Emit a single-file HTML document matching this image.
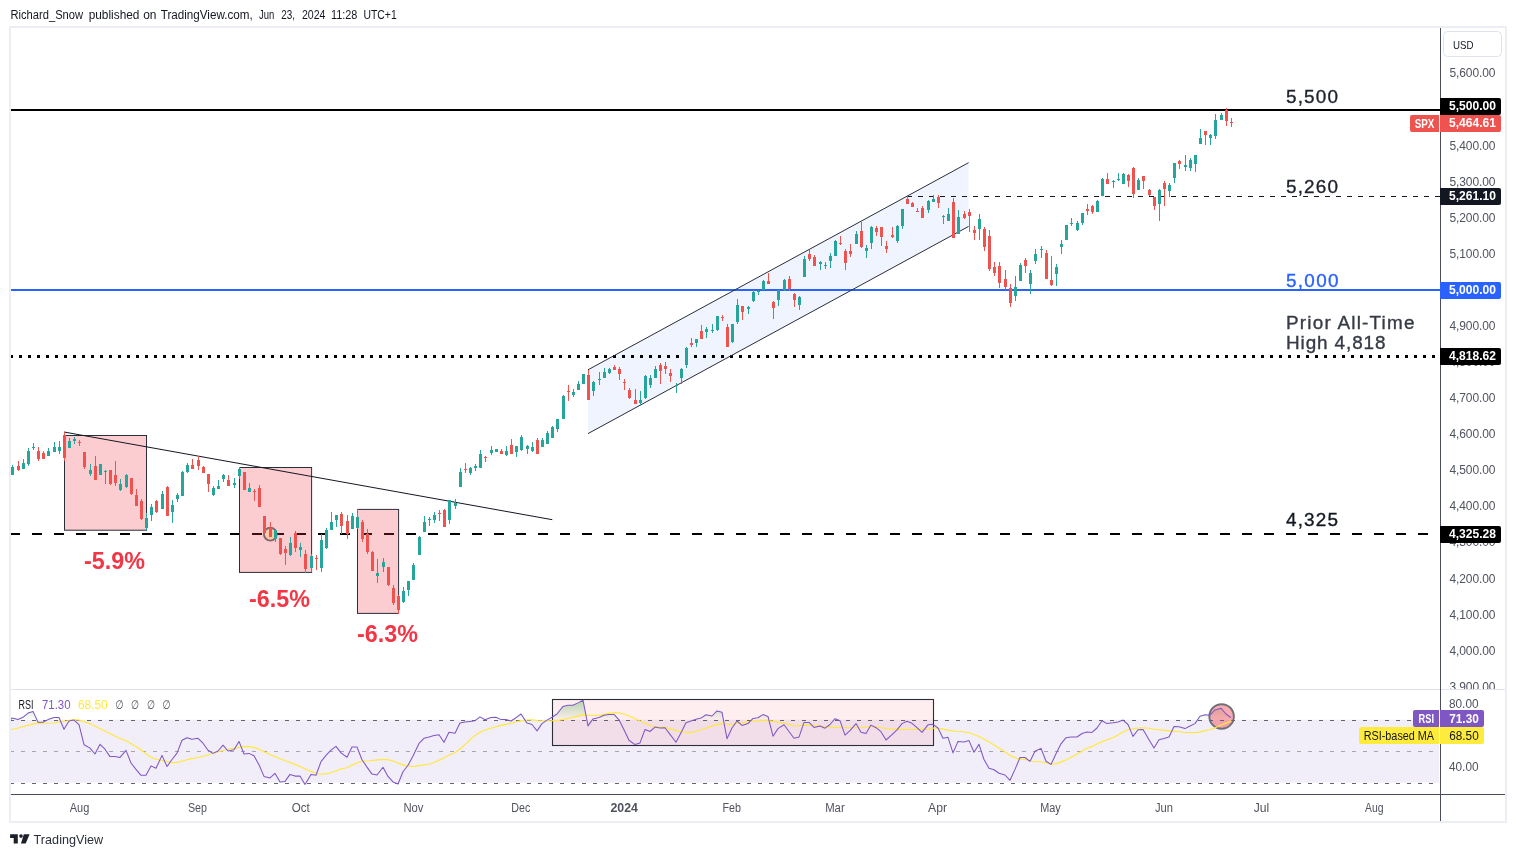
<!DOCTYPE html>
<html lang="en"><head><meta charset="utf-8"><title>SPX chart</title>
<style>html,body{margin:0;padding:0;background:#fff;overflow:hidden}body{width:1516px;height:857px}</style></head>
<body>
<svg width="1516" height="857" viewBox="0 0 1516 857" font-family='"Liberation Sans", "DejaVu Sans", sans-serif' style="display:block">
<rect x="0" y="0" width="1516" height="857" fill="#ffffff" />
<text y="19" font-size="12" fill="#131722"><tspan x="10.5" textLength="72.6" lengthAdjust="spacingAndGlyphs">Richard_Snow</tspan> <tspan x="88.7" textLength="50.7" lengthAdjust="spacingAndGlyphs">published</tspan> <tspan x="143.2" textLength="13.3" lengthAdjust="spacingAndGlyphs">on</tspan> <tspan x="160.7" textLength="92" lengthAdjust="spacingAndGlyphs">TradingView.com,</tspan> <tspan x="259" textLength="15.3" lengthAdjust="spacingAndGlyphs">Jun</tspan> <tspan x="281.2" textLength="13.8" lengthAdjust="spacingAndGlyphs">23,</tspan> <tspan x="302" textLength="23.5" lengthAdjust="spacingAndGlyphs">2024</tspan> <tspan x="331" textLength="26.4" lengthAdjust="spacingAndGlyphs">11:28</tspan> <tspan x="363.5" textLength="33.2" lengthAdjust="spacingAndGlyphs">UTC+1</tspan></text>
<rect x="10" y="27" width="1496" height="795" fill="#ffffff" stroke="#eceef4" stroke-width="2"/>
<g shape-rendering="crispEdges">
<rect x="11" y="689" width="1494" height="1" fill="#e0e3eb" />
</g>
<polygon points="588,369.8 968.6,162.7 968.6,226.4 588,433.6" fill="#2962ff" fill-opacity="0.07"/>
<g shape-rendering="crispEdges">
<rect x="11" y="109" width="1429" height="2" fill="#000000" />
<rect x="11" y="289" width="1429" height="2" fill="#2962ff" />
</g>
<line x1="907" y1="196.5" x2="1440" y2="196.5" stroke="#131722" stroke-width="1" stroke-dasharray="5,6" shape-rendering="crispEdges"/>
<line x1="10" y1="356.5" x2="1440" y2="356.5" stroke="#000" stroke-width="3" stroke-dasharray="3,6" shape-rendering="crispEdges"/>
<line x1="10" y1="534" x2="1440" y2="534" stroke="#000" stroke-width="2" stroke-dasharray="10,12" shape-rendering="crispEdges"/>
<rect x="64.5" y="435.5" width="82.0" height="94.70000000000005" fill="#f23645" fill-opacity="0.25" stroke="#2a2e39" stroke-width="1"/>
<rect x="239.5" y="467.5" width="72.10000000000002" height="104.89999999999998" fill="#f23645" fill-opacity="0.25" stroke="#2a2e39" stroke-width="1"/>
<rect x="357.5" y="509.4" width="41.10000000000002" height="104.0" fill="#f23645" fill-opacity="0.25" stroke="#2a2e39" stroke-width="1"/>
<line x1="64" y1="432" x2="552.3" y2="519.7" stroke="#131722" stroke-width="1"/>
<line x1="588" y1="369.8" x2="968.6" y2="162.7" stroke="#2a2e39" stroke-width="1"/>
<line x1="588" y1="433.6" x2="968.6" y2="226.4" stroke="#2a2e39" stroke-width="1"/>
<circle cx="270.3" cy="534.2" r="6.4" fill="#ffc878" fill-opacity="0.5" stroke="#846570" stroke-width="1.9"/>
<g shape-rendering="crispEdges">
<rect x="12" y="465" width="1" height="10" fill="#26a69a"/><rect x="11" y="467" width="3" height="8" fill="#26a69a"/>
<rect x="18" y="461" width="1" height="10" fill="#ef5350"/><rect x="17" y="466" width="3" height="4" fill="#ef5350"/>
<rect x="23" y="459" width="1" height="10" fill="#26a69a"/><rect x="22" y="463" width="3" height="6" fill="#26a69a"/>
<rect x="28" y="448" width="1" height="18" fill="#26a69a"/><rect x="27" y="451" width="3" height="13" fill="#26a69a"/>
<rect x="33" y="443" width="1" height="7" fill="#26a69a"/><rect x="32" y="447" width="3" height="1" fill="#26a69a"/>
<rect x="38" y="447" width="1" height="14" fill="#ef5350"/><rect x="37" y="451" width="3" height="8" fill="#ef5350"/>
<rect x="43" y="451" width="1" height="8" fill="#ef5350"/><rect x="42" y="453" width="3" height="6" fill="#ef5350"/>
<rect x="48" y="448" width="1" height="8" fill="#26a69a"/><rect x="47" y="451" width="3" height="5" fill="#26a69a"/>
<rect x="54" y="442" width="1" height="10" fill="#26a69a"/><rect x="53" y="447" width="3" height="5" fill="#26a69a"/>
<rect x="59" y="441" width="1" height="13" fill="#26a69a"/><rect x="58" y="447" width="3" height="4" fill="#26a69a"/>
<rect x="64" y="432" width="1" height="29" fill="#ef5350"/><rect x="63" y="435" width="3" height="23" fill="#ef5350"/>
<rect x="69" y="438" width="1" height="10" fill="#26a69a"/><rect x="68" y="441" width="3" height="7" fill="#26a69a"/>
<rect x="74" y="437" width="1" height="7" fill="#26a69a"/><rect x="73" y="439" width="3" height="2" fill="#26a69a"/>
<rect x="79" y="440" width="1" height="6" fill="#ef5350"/><rect x="78" y="442" width="3" height="1" fill="#ef5350"/>
<rect x="84" y="452" width="1" height="17" fill="#ef5350"/><rect x="83" y="452" width="3" height="15" fill="#ef5350"/>
<rect x="90" y="464" width="1" height="12" fill="#26a69a"/><rect x="89" y="470" width="3" height="4" fill="#26a69a"/>
<rect x="95" y="456" width="1" height="24" fill="#ef5350"/><rect x="94" y="466" width="3" height="14" fill="#ef5350"/>
<rect x="100" y="464" width="1" height="11" fill="#26a69a"/><rect x="99" y="464" width="3" height="11" fill="#26a69a"/>
<rect x="105" y="470" width="1" height="14" fill="#26a69a"/><rect x="104" y="471" width="3" height="1" fill="#26a69a"/>
<rect x="110" y="470" width="1" height="15" fill="#ef5350"/><rect x="109" y="470" width="3" height="14" fill="#ef5350"/>
<rect x="115" y="461" width="1" height="25" fill="#ef5350"/><rect x="114" y="475" width="3" height="8" fill="#ef5350"/>
<rect x="120" y="479" width="1" height="12" fill="#26a69a"/><rect x="119" y="484" width="3" height="6" fill="#26a69a"/>
<rect x="126" y="474" width="1" height="14" fill="#26a69a"/><rect x="125" y="475" width="3" height="12" fill="#26a69a"/>
<rect x="131" y="478" width="1" height="17" fill="#ef5350"/><rect x="130" y="478" width="3" height="16" fill="#ef5350"/>
<rect x="136" y="489" width="1" height="17" fill="#ef5350"/><rect x="135" y="495" width="3" height="11" fill="#ef5350"/>
<rect x="141" y="499" width="1" height="21" fill="#ef5350"/><rect x="140" y="501" width="3" height="18" fill="#ef5350"/>
<rect x="146" y="513" width="1" height="17" fill="#26a69a"/><rect x="145" y="518" width="3" height="10" fill="#26a69a"/>
<rect x="151" y="504" width="1" height="17" fill="#26a69a"/><rect x="150" y="507" width="3" height="8" fill="#26a69a"/>
<rect x="156" y="500" width="1" height="13" fill="#ef5350"/><rect x="155" y="501" width="3" height="11" fill="#ef5350"/>
<rect x="162" y="491" width="1" height="18" fill="#26a69a"/><rect x="161" y="494" width="3" height="15" fill="#26a69a"/>
<rect x="167" y="486" width="1" height="30" fill="#ef5350"/><rect x="166" y="487" width="3" height="29" fill="#ef5350"/>
<rect x="172" y="500" width="1" height="23" fill="#26a69a"/><rect x="171" y="505" width="3" height="7" fill="#26a69a"/>
<rect x="177" y="493" width="1" height="9" fill="#26a69a"/><rect x="176" y="495" width="3" height="4" fill="#26a69a"/>
<rect x="182" y="471" width="1" height="25" fill="#26a69a"/><rect x="181" y="472" width="3" height="24" fill="#26a69a"/>
<rect x="187" y="463" width="1" height="10" fill="#26a69a"/><rect x="186" y="465" width="3" height="7" fill="#26a69a"/>
<rect x="192" y="459" width="1" height="10" fill="#ef5350"/><rect x="191" y="465" width="3" height="4" fill="#ef5350"/>
<rect x="198" y="456" width="1" height="14" fill="#ef5350"/><rect x="197" y="460" width="3" height="6" fill="#ef5350"/>
<rect x="203" y="466" width="1" height="7" fill="#ef5350"/><rect x="202" y="467" width="3" height="6" fill="#ef5350"/>
<rect x="208" y="474" width="1" height="18" fill="#ef5350"/><rect x="207" y="474" width="3" height="10" fill="#ef5350"/>
<rect x="213" y="486" width="1" height="10" fill="#26a69a"/><rect x="212" y="488" width="3" height="7" fill="#26a69a"/>
<rect x="218" y="480" width="1" height="9" fill="#26a69a"/><rect x="217" y="486" width="3" height="3" fill="#26a69a"/>
<rect x="223" y="474" width="1" height="8" fill="#26a69a"/><rect x="222" y="475" width="3" height="4" fill="#26a69a"/>
<rect x="228" y="475" width="1" height="11" fill="#ef5350"/><rect x="227" y="480" width="3" height="6" fill="#ef5350"/>
<rect x="234" y="478" width="1" height="10" fill="#26a69a"/><rect x="233" y="483" width="3" height="2" fill="#26a69a"/>
<rect x="239" y="467" width="1" height="12" fill="#26a69a"/><rect x="238" y="469" width="3" height="7" fill="#26a69a"/>
<rect x="244" y="472" width="1" height="18" fill="#ef5350"/><rect x="243" y="472" width="3" height="18" fill="#ef5350"/>
<rect x="249" y="483" width="1" height="9" fill="#26a69a"/><rect x="248" y="488" width="3" height="4" fill="#26a69a"/>
<rect x="254" y="489" width="1" height="12" fill="#ef5350"/><rect x="253" y="491" width="3" height="1" fill="#ef5350"/>
<rect x="259" y="485" width="1" height="22" fill="#ef5350"/><rect x="258" y="488" width="3" height="19" fill="#ef5350"/>
<rect x="264" y="516" width="1" height="17" fill="#ef5350"/><rect x="263" y="516" width="3" height="17" fill="#ef5350"/>
<rect x="270" y="522" width="1" height="15" fill="#ef5350"/><rect x="269" y="528" width="3" height="9" fill="#ef5350"/>
<rect x="275" y="529" width="1" height="13" fill="#26a69a"/><rect x="274" y="530" width="3" height="9" fill="#26a69a"/>
<rect x="280" y="538" width="1" height="17" fill="#ef5350"/><rect x="279" y="538" width="3" height="16" fill="#ef5350"/>
<rect x="285" y="546" width="1" height="19" fill="#ef5350"/><rect x="284" y="549" width="3" height="4" fill="#ef5350"/>
<rect x="290" y="537" width="1" height="19" fill="#26a69a"/><rect x="289" y="543" width="3" height="12" fill="#26a69a"/>
<rect x="295" y="531" width="1" height="21" fill="#ef5350"/><rect x="294" y="533" width="3" height="15" fill="#ef5350"/>
<rect x="300" y="543" width="1" height="14" fill="#26a69a"/><rect x="299" y="547" width="3" height="3" fill="#26a69a"/>
<rect x="305" y="550" width="1" height="23" fill="#ef5350"/><rect x="304" y="554" width="3" height="15" fill="#ef5350"/>
<rect x="311" y="554" width="1" height="18" fill="#26a69a"/><rect x="310" y="556" width="3" height="12" fill="#26a69a"/>
<rect x="316" y="555" width="1" height="15" fill="#ef5350"/><rect x="315" y="558" width="3" height="1" fill="#ef5350"/>
<rect x="321" y="534" width="1" height="38" fill="#26a69a"/><rect x="320" y="540" width="3" height="28" fill="#26a69a"/>
<rect x="326" y="528" width="1" height="21" fill="#26a69a"/><rect x="325" y="530" width="3" height="18" fill="#26a69a"/>
<rect x="331" y="512" width="1" height="18" fill="#26a69a"/><rect x="330" y="522" width="3" height="8" fill="#26a69a"/>
<rect x="336" y="515" width="1" height="12" fill="#26a69a"/><rect x="335" y="515" width="3" height="5" fill="#26a69a"/>
<rect x="341" y="512" width="1" height="22" fill="#ef5350"/><rect x="340" y="514" width="3" height="12" fill="#ef5350"/>
<rect x="347" y="515" width="1" height="24" fill="#ef5350"/><rect x="346" y="521" width="3" height="13" fill="#ef5350"/>
<rect x="352" y="513" width="1" height="16" fill="#26a69a"/><rect x="351" y="516" width="3" height="13" fill="#26a69a"/>
<rect x="357" y="509" width="1" height="20" fill="#26a69a"/><rect x="356" y="517" width="3" height="11" fill="#26a69a"/>
<rect x="362" y="520" width="1" height="22" fill="#ef5350"/><rect x="361" y="522" width="3" height="17" fill="#ef5350"/>
<rect x="367" y="529" width="1" height="25" fill="#ef5350"/><rect x="366" y="534" width="3" height="18" fill="#ef5350"/>
<rect x="372" y="551" width="1" height="20" fill="#ef5350"/><rect x="371" y="552" width="3" height="19" fill="#ef5350"/>
<rect x="377" y="559" width="1" height="24" fill="#26a69a"/><rect x="376" y="573" width="3" height="3" fill="#26a69a"/>
<rect x="383" y="558" width="1" height="14" fill="#26a69a"/><rect x="382" y="562" width="3" height="5" fill="#26a69a"/>
<rect x="388" y="567" width="1" height="19" fill="#ef5350"/><rect x="387" y="567" width="3" height="18" fill="#ef5350"/>
<rect x="393" y="585" width="1" height="20" fill="#ef5350"/><rect x="392" y="588" width="3" height="15" fill="#ef5350"/>
<rect x="398" y="595" width="1" height="19" fill="#ef5350"/><rect x="397" y="596" width="3" height="14" fill="#ef5350"/>
<rect x="403" y="587" width="1" height="16" fill="#26a69a"/><rect x="402" y="591" width="3" height="11" fill="#26a69a"/>
<rect x="408" y="581" width="1" height="15" fill="#26a69a"/><rect x="407" y="581" width="3" height="9" fill="#26a69a"/>
<rect x="413" y="563" width="1" height="17" fill="#26a69a"/><rect x="412" y="565" width="3" height="15" fill="#26a69a"/>
<rect x="419" y="536" width="1" height="19" fill="#26a69a"/><rect x="418" y="537" width="3" height="18" fill="#26a69a"/>
<rect x="424" y="516" width="1" height="16" fill="#26a69a"/><rect x="423" y="522" width="3" height="10" fill="#26a69a"/>
<rect x="429" y="517" width="1" height="9" fill="#26a69a"/><rect x="428" y="519" width="3" height="1" fill="#26a69a"/>
<rect x="434" y="512" width="1" height="11" fill="#26a69a"/><rect x="433" y="515" width="3" height="5" fill="#26a69a"/>
<rect x="439" y="510" width="1" height="11" fill="#ef5350"/><rect x="438" y="513" width="3" height="1" fill="#ef5350"/>
<rect x="444" y="509" width="1" height="18" fill="#ef5350"/><rect x="443" y="510" width="3" height="17" fill="#ef5350"/>
<rect x="449" y="500" width="1" height="24" fill="#26a69a"/><rect x="448" y="500" width="3" height="20" fill="#26a69a"/>
<rect x="455" y="499" width="1" height="10" fill="#26a69a"/><rect x="454" y="503" width="3" height="3" fill="#26a69a"/>
<rect x="460" y="468" width="1" height="19" fill="#26a69a"/><rect x="459" y="472" width="3" height="15" fill="#26a69a"/>
<rect x="465" y="463" width="1" height="10" fill="#ef5350"/><rect x="464" y="469" width="3" height="1" fill="#ef5350"/>
<rect x="470" y="467" width="1" height="8" fill="#26a69a"/><rect x="469" y="468" width="3" height="5" fill="#26a69a"/>
<rect x="475" y="464" width="1" height="7" fill="#26a69a"/><rect x="474" y="466" width="3" height="2" fill="#26a69a"/>
<rect x="480" y="450" width="1" height="18" fill="#26a69a"/><rect x="479" y="454" width="3" height="14" fill="#26a69a"/>
<rect x="485" y="456" width="1" height="6" fill="#ef5350"/><rect x="484" y="457" width="3" height="1" fill="#ef5350"/>
<rect x="491" y="446" width="1" height="9" fill="#26a69a"/><rect x="490" y="450" width="3" height="3" fill="#26a69a"/>
<rect x="496" y="449" width="1" height="3" fill="#26a69a"/><rect x="495" y="449" width="3" height="3" fill="#26a69a"/>
<rect x="501" y="449" width="1" height="5" fill="#ef5350"/><rect x="500" y="451" width="3" height="3" fill="#ef5350"/>
<rect x="506" y="446" width="1" height="10" fill="#26a69a"/><rect x="505" y="451" width="3" height="4" fill="#26a69a"/>
<rect x="511" y="439" width="1" height="15" fill="#ef5350"/><rect x="510" y="445" width="3" height="9" fill="#ef5350"/>
<rect x="516" y="446" width="1" height="11" fill="#26a69a"/><rect x="515" y="446" width="3" height="6" fill="#26a69a"/>
<rect x="521" y="435" width="1" height="16" fill="#26a69a"/><rect x="520" y="437" width="3" height="13" fill="#26a69a"/>
<rect x="527" y="445" width="1" height="9" fill="#26a69a"/><rect x="526" y="446" width="3" height="3" fill="#26a69a"/>
<rect x="532" y="442" width="1" height="10" fill="#26a69a"/><rect x="531" y="447" width="3" height="4" fill="#26a69a"/>
<rect x="537" y="438" width="1" height="16" fill="#ef5350"/><rect x="536" y="440" width="3" height="14" fill="#ef5350"/>
<rect x="542" y="438" width="1" height="9" fill="#26a69a"/><rect x="541" y="440" width="3" height="7" fill="#26a69a"/>
<rect x="547" y="431" width="1" height="13" fill="#26a69a"/><rect x="546" y="433" width="3" height="11" fill="#26a69a"/>
<rect x="552" y="426" width="1" height="12" fill="#26a69a"/><rect x="551" y="427" width="3" height="11" fill="#26a69a"/>
<rect x="557" y="419" width="1" height="13" fill="#26a69a"/><rect x="556" y="419" width="3" height="10" fill="#26a69a"/>
<rect x="563" y="395" width="1" height="24" fill="#26a69a"/><rect x="562" y="396" width="3" height="23" fill="#26a69a"/>
<rect x="568" y="385" width="1" height="16" fill="#ef5350"/><rect x="567" y="391" width="3" height="1" fill="#ef5350"/>
<rect x="573" y="389" width="1" height="8" fill="#26a69a"/><rect x="572" y="392" width="3" height="3" fill="#26a69a"/>
<rect x="578" y="381" width="1" height="9" fill="#26a69a"/><rect x="577" y="384" width="3" height="6" fill="#26a69a"/>
<rect x="583" y="374" width="1" height="10" fill="#26a69a"/><rect x="582" y="374" width="3" height="10" fill="#26a69a"/>
<rect x="588" y="370" width="1" height="30" fill="#ef5350"/><rect x="587" y="375" width="3" height="25" fill="#ef5350"/>
<rect x="593" y="381" width="1" height="15" fill="#26a69a"/><rect x="592" y="382" width="3" height="9" fill="#26a69a"/>
<rect x="599" y="372" width="1" height="13" fill="#26a69a"/><rect x="598" y="379" width="3" height="1" fill="#26a69a"/>
<rect x="604" y="368" width="1" height="10" fill="#26a69a"/><rect x="603" y="372" width="3" height="6" fill="#26a69a"/>
<rect x="609" y="368" width="1" height="6" fill="#26a69a"/><rect x="608" y="369" width="3" height="4" fill="#26a69a"/>
<rect x="614" y="365" width="1" height="5" fill="#ef5350"/><rect x="613" y="367" width="3" height="3" fill="#ef5350"/>
<rect x="619" y="367" width="1" height="13" fill="#ef5350"/><rect x="618" y="369" width="3" height="5" fill="#ef5350"/>
<rect x="624" y="379" width="1" height="11" fill="#ef5350"/><rect x="623" y="382" width="3" height="1" fill="#ef5350"/>
<rect x="629" y="388" width="1" height="11" fill="#ef5350"/><rect x="628" y="390" width="3" height="8" fill="#ef5350"/>
<rect x="635" y="389" width="1" height="15" fill="#ef5350"/><rect x="634" y="400" width="3" height="4" fill="#ef5350"/>
<rect x="640" y="391" width="1" height="14" fill="#26a69a"/><rect x="639" y="400" width="3" height="3" fill="#26a69a"/>
<rect x="645" y="375" width="1" height="24" fill="#26a69a"/><rect x="644" y="376" width="3" height="22" fill="#26a69a"/>
<rect x="650" y="375" width="1" height="13" fill="#26a69a"/><rect x="649" y="378" width="3" height="7" fill="#26a69a"/>
<rect x="655" y="366" width="1" height="12" fill="#26a69a"/><rect x="654" y="369" width="3" height="9" fill="#26a69a"/>
<rect x="660" y="363" width="1" height="21" fill="#ef5350"/><rect x="659" y="365" width="3" height="6" fill="#ef5350"/>
<rect x="665" y="362" width="1" height="12" fill="#ef5350"/><rect x="664" y="366" width="3" height="3" fill="#ef5350"/>
<rect x="670" y="369" width="1" height="13" fill="#ef5350"/><rect x="669" y="373" width="3" height="3" fill="#ef5350"/>
<rect x="676" y="383" width="1" height="10" fill="#26a69a"/><rect x="675" y="385" width="3" height="1" fill="#26a69a"/>
<rect x="681" y="368" width="1" height="16" fill="#26a69a"/><rect x="680" y="369" width="3" height="9" fill="#26a69a"/>
<rect x="686" y="347" width="1" height="21" fill="#26a69a"/><rect x="685" y="348" width="3" height="17" fill="#26a69a"/>
<rect x="691" y="338" width="1" height="9" fill="#ef5350"/><rect x="690" y="343" width="3" height="2" fill="#ef5350"/>
<rect x="696" y="339" width="1" height="8" fill="#26a69a"/><rect x="695" y="339" width="3" height="4" fill="#26a69a"/>
<rect x="701" y="325" width="1" height="14" fill="#ef5350"/><rect x="700" y="331" width="3" height="8" fill="#ef5350"/>
<rect x="706" y="327" width="1" height="11" fill="#26a69a"/><rect x="705" y="329" width="3" height="3" fill="#26a69a"/>
<rect x="712" y="324" width="1" height="9" fill="#26a69a"/><rect x="711" y="330" width="3" height="1" fill="#26a69a"/>
<rect x="717" y="316" width="1" height="15" fill="#26a69a"/><rect x="716" y="316" width="3" height="14" fill="#26a69a"/>
<rect x="722" y="315" width="1" height="6" fill="#ef5350"/><rect x="721" y="317" width="3" height="1" fill="#ef5350"/>
<rect x="727" y="324" width="1" height="23" fill="#ef5350"/><rect x="726" y="327" width="3" height="20" fill="#ef5350"/>
<rect x="732" y="324" width="1" height="19" fill="#26a69a"/><rect x="731" y="324" width="3" height="18" fill="#26a69a"/>
<rect x="737" y="299" width="1" height="25" fill="#26a69a"/><rect x="736" y="305" width="3" height="17" fill="#26a69a"/>
<rect x="742" y="306" width="1" height="14" fill="#ef5350"/><rect x="741" y="306" width="3" height="6" fill="#ef5350"/>
<rect x="748" y="306" width="1" height="8" fill="#26a69a"/><rect x="747" y="307" width="3" height="2" fill="#26a69a"/>
<rect x="753" y="290" width="1" height="12" fill="#26a69a"/><rect x="752" y="292" width="3" height="9" fill="#26a69a"/>
<rect x="758" y="290" width="1" height="5" fill="#26a69a"/><rect x="757" y="291" width="3" height="1" fill="#26a69a"/>
<rect x="763" y="280" width="1" height="10" fill="#26a69a"/><rect x="762" y="281" width="3" height="9" fill="#26a69a"/>
<rect x="768" y="273" width="1" height="11" fill="#ef5350"/><rect x="767" y="281" width="3" height="3" fill="#ef5350"/>
<rect x="773" y="301" width="1" height="18" fill="#ef5350"/><rect x="772" y="302" width="3" height="6" fill="#ef5350"/>
<rect x="778" y="290" width="1" height="16" fill="#26a69a"/><rect x="777" y="290" width="3" height="10" fill="#26a69a"/>
<rect x="784" y="279" width="1" height="12" fill="#26a69a"/><rect x="783" y="280" width="3" height="10" fill="#26a69a"/>
<rect x="789" y="276" width="1" height="15" fill="#ef5350"/><rect x="788" y="279" width="3" height="10" fill="#ef5350"/>
<rect x="794" y="293" width="1" height="14" fill="#ef5350"/><rect x="793" y="294" width="3" height="6" fill="#ef5350"/>
<rect x="799" y="296" width="1" height="14" fill="#26a69a"/><rect x="798" y="297" width="3" height="8" fill="#26a69a"/>
<rect x="804" y="256" width="1" height="21" fill="#26a69a"/><rect x="803" y="259" width="3" height="18" fill="#26a69a"/>
<rect x="809" y="250" width="1" height="11" fill="#ef5350"/><rect x="808" y="254" width="3" height="5" fill="#ef5350"/>
<rect x="814" y="255" width="1" height="11" fill="#ef5350"/><rect x="813" y="257" width="3" height="9" fill="#ef5350"/>
<rect x="820" y="261" width="1" height="9" fill="#26a69a"/><rect x="819" y="262" width="3" height="2" fill="#26a69a"/>
<rect x="825" y="262" width="1" height="7" fill="#26a69a"/><rect x="824" y="265" width="3" height="1" fill="#26a69a"/>
<rect x="830" y="253" width="1" height="15" fill="#26a69a"/><rect x="829" y="256" width="3" height="5" fill="#26a69a"/>
<rect x="835" y="240" width="1" height="16" fill="#26a69a"/><rect x="834" y="241" width="3" height="15" fill="#26a69a"/>
<rect x="840" y="236" width="1" height="9" fill="#ef5350"/><rect x="839" y="243" width="3" height="1" fill="#ef5350"/>
<rect x="845" y="249" width="1" height="21" fill="#ef5350"/><rect x="844" y="251" width="3" height="12" fill="#ef5350"/>
<rect x="850" y="244" width="1" height="13" fill="#ef5350"/><rect x="849" y="251" width="3" height="3" fill="#ef5350"/>
<rect x="856" y="231" width="1" height="13" fill="#26a69a"/><rect x="855" y="234" width="3" height="10" fill="#26a69a"/>
<rect x="861" y="222" width="1" height="26" fill="#ef5350"/><rect x="860" y="231" width="3" height="16" fill="#ef5350"/>
<rect x="866" y="245" width="1" height="13" fill="#26a69a"/><rect x="865" y="248" width="3" height="3" fill="#26a69a"/>
<rect x="871" y="226" width="1" height="23" fill="#26a69a"/><rect x="870" y="227" width="3" height="16" fill="#26a69a"/>
<rect x="876" y="226" width="1" height="10" fill="#ef5350"/><rect x="875" y="228" width="3" height="4" fill="#ef5350"/>
<rect x="881" y="227" width="1" height="19" fill="#ef5350"/><rect x="880" y="227" width="3" height="10" fill="#ef5350"/>
<rect x="886" y="241" width="1" height="12" fill="#ef5350"/><rect x="885" y="246" width="3" height="3" fill="#ef5350"/>
<rect x="892" y="227" width="1" height="11" fill="#ef5350"/><rect x="891" y="235" width="3" height="2" fill="#ef5350"/>
<rect x="897" y="225" width="1" height="18" fill="#26a69a"/><rect x="896" y="226" width="3" height="15" fill="#26a69a"/>
<rect x="902" y="209" width="1" height="20" fill="#26a69a"/><rect x="901" y="209" width="3" height="17" fill="#26a69a"/>
<rect x="907" y="196" width="1" height="8" fill="#ef5350"/><rect x="906" y="199" width="3" height="5" fill="#ef5350"/>
<rect x="912" y="202" width="1" height="5" fill="#ef5350"/><rect x="911" y="203" width="3" height="4" fill="#ef5350"/>
<rect x="917" y="208" width="1" height="4" fill="#ef5350"/><rect x="916" y="211" width="3" height="1" fill="#ef5350"/>
<rect x="922" y="206" width="1" height="12" fill="#ef5350"/><rect x="921" y="208" width="3" height="10" fill="#ef5350"/>
<rect x="928" y="200" width="1" height="13" fill="#26a69a"/><rect x="927" y="201" width="3" height="9" fill="#26a69a"/>
<rect x="933" y="195" width="1" height="7" fill="#26a69a"/><rect x="932" y="199" width="3" height="3" fill="#26a69a"/>
<rect x="938" y="195" width="1" height="13" fill="#ef5350"/><rect x="937" y="197" width="3" height="6" fill="#ef5350"/>
<rect x="943" y="215" width="1" height="9" fill="#26a69a"/><rect x="942" y="216" width="3" height="1" fill="#26a69a"/>
<rect x="948" y="208" width="1" height="13" fill="#26a69a"/><rect x="947" y="214" width="3" height="7" fill="#26a69a"/>
<rect x="953" y="198" width="1" height="40" fill="#ef5350"/><rect x="952" y="202" width="3" height="36" fill="#ef5350"/>
<rect x="958" y="210" width="1" height="24" fill="#26a69a"/><rect x="957" y="217" width="3" height="17" fill="#26a69a"/>
<rect x="964" y="211" width="1" height="8" fill="#ef5350"/><rect x="963" y="214" width="3" height="4" fill="#ef5350"/>
<rect x="969" y="209" width="1" height="23" fill="#ef5350"/><rect x="968" y="212" width="3" height="4" fill="#ef5350"/>
<rect x="974" y="226" width="1" height="14" fill="#ef5350"/><rect x="973" y="230" width="3" height="3" fill="#ef5350"/>
<rect x="979" y="214" width="1" height="26" fill="#26a69a"/><rect x="978" y="219" width="3" height="10" fill="#26a69a"/>
<rect x="984" y="227" width="1" height="24" fill="#ef5350"/><rect x="983" y="229" width="3" height="18" fill="#ef5350"/>
<rect x="989" y="230" width="1" height="41" fill="#ef5350"/><rect x="988" y="236" width="3" height="33" fill="#ef5350"/>
<rect x="994" y="262" width="1" height="14" fill="#ef5350"/><rect x="993" y="267" width="3" height="6" fill="#ef5350"/>
<rect x="999" y="262" width="1" height="26" fill="#ef5350"/><rect x="998" y="266" width="3" height="17" fill="#ef5350"/>
<rect x="1005" y="270" width="1" height="20" fill="#ef5350"/><rect x="1004" y="279" width="3" height="8" fill="#ef5350"/>
<rect x="1010" y="284" width="1" height="23" fill="#ef5350"/><rect x="1009" y="288" width="3" height="15" fill="#ef5350"/>
<rect x="1015" y="276" width="1" height="25" fill="#26a69a"/><rect x="1014" y="287" width="3" height="9" fill="#26a69a"/>
<rect x="1020" y="263" width="1" height="18" fill="#26a69a"/><rect x="1019" y="265" width="3" height="16" fill="#26a69a"/>
<rect x="1025" y="258" width="1" height="15" fill="#ef5350"/><rect x="1024" y="260" width="3" height="6" fill="#ef5350"/>
<rect x="1030" y="270" width="1" height="24" fill="#26a69a"/><rect x="1029" y="273" width="3" height="11" fill="#26a69a"/>
<rect x="1035" y="249" width="1" height="15" fill="#26a69a"/><rect x="1034" y="254" width="3" height="7" fill="#26a69a"/>
<rect x="1041" y="246" width="1" height="12" fill="#26a69a"/><rect x="1040" y="249" width="3" height="1" fill="#26a69a"/>
<rect x="1046" y="250" width="1" height="29" fill="#ef5350"/><rect x="1045" y="253" width="3" height="26" fill="#ef5350"/>
<rect x="1051" y="256" width="1" height="30" fill="#ef5350"/><rect x="1050" y="280" width="3" height="5" fill="#ef5350"/>
<rect x="1056" y="264" width="1" height="22" fill="#26a69a"/><rect x="1055" y="267" width="3" height="7" fill="#26a69a"/>
<rect x="1061" y="240" width="1" height="14" fill="#26a69a"/><rect x="1060" y="244" width="3" height="3" fill="#26a69a"/>
<rect x="1066" y="225" width="1" height="15" fill="#26a69a"/><rect x="1065" y="225" width="3" height="15" fill="#26a69a"/>
<rect x="1071" y="218" width="1" height="8" fill="#26a69a"/><rect x="1070" y="223" width="3" height="1" fill="#26a69a"/>
<rect x="1077" y="221" width="1" height="10" fill="#26a69a"/><rect x="1076" y="223" width="3" height="7" fill="#26a69a"/>
<rect x="1082" y="213" width="1" height="12" fill="#26a69a"/><rect x="1081" y="213" width="3" height="10" fill="#26a69a"/>
<rect x="1087" y="204" width="1" height="11" fill="#ef5350"/><rect x="1086" y="209" width="3" height="2" fill="#ef5350"/>
<rect x="1092" y="205" width="1" height="9" fill="#ef5350"/><rect x="1091" y="206" width="3" height="6" fill="#ef5350"/>
<rect x="1097" y="200" width="1" height="12" fill="#26a69a"/><rect x="1096" y="201" width="3" height="11" fill="#26a69a"/>
<rect x="1102" y="178" width="1" height="18" fill="#26a69a"/><rect x="1101" y="179" width="3" height="17" fill="#26a69a"/>
<rect x="1107" y="173" width="1" height="11" fill="#ef5350"/><rect x="1106" y="179" width="3" height="5" fill="#ef5350"/>
<rect x="1113" y="180" width="1" height="8" fill="#26a69a"/><rect x="1112" y="181" width="3" height="1" fill="#26a69a"/>
<rect x="1118" y="173" width="1" height="8" fill="#26a69a"/><rect x="1117" y="179" width="3" height="1" fill="#26a69a"/>
<rect x="1123" y="173" width="1" height="11" fill="#26a69a"/><rect x="1122" y="174" width="3" height="10" fill="#26a69a"/>
<rect x="1128" y="174" width="1" height="13" fill="#ef5350"/><rect x="1127" y="175" width="3" height="6" fill="#ef5350"/>
<rect x="1133" y="167" width="1" height="31" fill="#ef5350"/><rect x="1132" y="168" width="3" height="26" fill="#ef5350"/>
<rect x="1138" y="178" width="1" height="12" fill="#26a69a"/><rect x="1137" y="180" width="3" height="10" fill="#26a69a"/>
<rect x="1143" y="176" width="1" height="13" fill="#ef5350"/><rect x="1142" y="176" width="3" height="5" fill="#ef5350"/>
<rect x="1149" y="189" width="1" height="7" fill="#ef5350"/><rect x="1148" y="190" width="3" height="5" fill="#ef5350"/>
<rect x="1154" y="197" width="1" height="13" fill="#ef5350"/><rect x="1153" y="197" width="3" height="9" fill="#ef5350"/>
<rect x="1159" y="189" width="1" height="32" fill="#26a69a"/><rect x="1158" y="190" width="3" height="14" fill="#26a69a"/>
<rect x="1164" y="181" width="1" height="25" fill="#ef5350"/><rect x="1163" y="183" width="3" height="6" fill="#ef5350"/>
<rect x="1169" y="183" width="1" height="14" fill="#26a69a"/><rect x="1168" y="185" width="3" height="6" fill="#26a69a"/>
<rect x="1174" y="163" width="1" height="20" fill="#26a69a"/><rect x="1173" y="163" width="3" height="15" fill="#26a69a"/>
<rect x="1179" y="160" width="1" height="9" fill="#ef5350"/><rect x="1178" y="161" width="3" height="3" fill="#ef5350"/>
<rect x="1185" y="155" width="1" height="16" fill="#26a69a"/><rect x="1184" y="165" width="3" height="2" fill="#26a69a"/>
<rect x="1190" y="158" width="1" height="13" fill="#26a69a"/><rect x="1189" y="160" width="3" height="8" fill="#26a69a"/>
<rect x="1195" y="155" width="1" height="17" fill="#26a69a"/><rect x="1194" y="155" width="3" height="9" fill="#26a69a"/>
<rect x="1200" y="129" width="1" height="15" fill="#26a69a"/><rect x="1199" y="138" width="3" height="6" fill="#26a69a"/>
<rect x="1205" y="131" width="1" height="14" fill="#ef5350"/><rect x="1204" y="131" width="3" height="4" fill="#ef5350"/>
<rect x="1210" y="134" width="1" height="11" fill="#26a69a"/><rect x="1209" y="135" width="3" height="3" fill="#26a69a"/>
<rect x="1215" y="114" width="1" height="25" fill="#26a69a"/><rect x="1214" y="120" width="3" height="16" fill="#26a69a"/>
<rect x="1221" y="113" width="1" height="7" fill="#26a69a"/><rect x="1220" y="115" width="3" height="5" fill="#26a69a"/>
<rect x="1226" y="108" width="1" height="18" fill="#ef5350"/><rect x="1225" y="110" width="3" height="11" fill="#ef5350"/>
<rect x="1231" y="118" width="1" height="9" fill="#ef5350"/><rect x="1230" y="122" width="3" height="1" fill="#ef5350"/>
</g>
<text x="1286" y="102.5" font-size="18.9" fill="#1e222d" textLength="52" lengthAdjust="spacing" stroke="#1e222d" stroke-width="0.35">5,500</text>
<text x="1286" y="192.5" font-size="18.9" fill="#1e222d" textLength="52" lengthAdjust="spacing" stroke="#1e222d" stroke-width="0.35">5,260</text>
<text x="1286" y="286.7" font-size="18.9" fill="#2962ff" textLength="52.5" lengthAdjust="spacing" stroke="#2962ff" stroke-width="0.35">5,000</text>
<text x="1286" y="328.7" font-size="18.9" fill="#363a45" textLength="128.5" lengthAdjust="spacing" stroke="#363a45" stroke-width="0.35">Prior All-Time</text>
<text x="1286" y="348.6" font-size="18.9" fill="#363a45" textLength="99.5" lengthAdjust="spacing" stroke="#363a45" stroke-width="0.35">High 4,818</text>
<text x="1286" y="525.7" font-size="18.9" fill="#131722" textLength="52" lengthAdjust="spacing" stroke="#131722" stroke-width="0.35">4,325</text>
<text x="84" y="568.9" font-size="24.7" fill="#f23645" font-weight="bold" textLength="60.9" lengthAdjust="spacingAndGlyphs" >-5.9%</text>
<text x="249" y="606.9" font-size="24.7" fill="#f23645" font-weight="bold" textLength="60.9" lengthAdjust="spacingAndGlyphs" >-6.5%</text>
<text x="357" y="641.9" font-size="24.7" fill="#f23645" font-weight="bold" textLength="60.9" lengthAdjust="spacingAndGlyphs" >-6.3%</text>
<rect x="11" y="719.7" width="1428" height="62.9" fill="#7e57c2" fill-opacity="0.1"/>
<rect x="552.5" y="699.5" width="381" height="46" fill="#f23645" fill-opacity="0.085" stroke="#2a2e39" stroke-width="1.1"/>
<defs><linearGradient id="ob" gradientUnits="userSpaceOnUse" x1="0" y1="698" x2="0" y2="720.5"><stop offset="0" stop-color="#4caf50" stop-opacity="0.45"/><stop offset="1" stop-color="#4caf50" stop-opacity="0"/></linearGradient><clipPath id="obc"><rect x="11" y="690" width="1429" height="30.5"/></clipPath></defs>
<polygon clip-path="url(#obc)" fill="url(#ob)" points="11,720.5 11,719.3 12,718.1 18,719.6 23,717.3 28,713.1 33,711.4 38,722.2 43,722.2 48,719.6 54,717.5 59,717.5 64,729.2 69,721.0 74,720.1 79,724.7 84,744.7 90,748.1 95,754.0 100,744.3 105,749.2 110,756.6 115,756.4 120,757.4 126,750.4 131,763.0 136,769.4 141,775.3 146,775.3 151,765.9 156,768.3 162,755.4 167,766.5 172,759.5 177,753.1 182,740.3 187,737.7 192,739.3 198,738.3 203,743.2 208,750.2 213,753.4 218,751.0 223,745.2 228,751.0 234,749.8 239,741.4 244,754.0 249,753.4 254,755.8 259,764.8 264,776.4 270,777.9 275,773.3 280,781.9 285,781.4 290,774.4 295,776.1 300,776.1 305,784.4 311,774.4 316,775.3 321,761.6 326,755.4 331,750.2 336,746.4 341,752.9 347,757.2 352,746.9 357,747.0 362,759.7 367,767.1 372,774.1 377,775.0 383,767.3 388,776.4 393,781.9 398,784.0 403,771.8 408,765.3 413,756.0 419,743.4 424,738.3 429,737.0 434,735.4 439,734.7 444,742.2 449,732.3 455,733.3 460,723.0 465,722.0 470,721.4 475,720.7 480,716.9 485,719.8 491,717.5 496,717.2 501,719.6 506,719.5 511,721.0 516,717.7 521,714.0 527,723.1 532,724.5 537,730.9 542,723.6 547,720.1 552,717.3 557,714.0 563,706.4 568,705.3 573,705.3 578,702.9 583,700.2 588,725.9 593,718.9 599,717.5 604,715.2 609,714.4 614,714.4 619,719.8 624,729.8 629,740.3 635,744.6 640,742.9 645,729.5 650,731.5 655,727.1 660,728.0 665,727.7 670,734.4 676,742.2 681,732.7 686,722.8 691,721.0 696,719.3 701,718.1 706,714.8 712,716.0 717,710.9 722,712.3 727,738.7 732,728.0 737,721.0 742,725.4 748,723.6 753,718.4 758,717.7 763,714.6 768,716.5 773,736.2 778,728.6 784,724.7 789,731.5 794,738.3 799,737.1 804,722.4 809,722.4 814,727.4 820,726.0 825,728.2 830,724.5 835,718.7 840,720.7 845,735.2 850,730.6 856,723.6 861,732.3 866,733.6 871,725.1 876,727.7 881,731.7 886,740.0 892,734.7 897,729.8 902,723.6 907,721.2 912,723.3 917,727.7 922,732.3 928,724.8 933,724.3 938,728.0 943,738.3 948,737.3 953,752.9 958,741.4 964,742.0 969,740.6 974,752.2 979,744.3 984,759.5 989,768.3 994,769.8 999,773.3 1005,775.0 1010,780.3 1015,769.4 1020,757.5 1025,757.5 1030,761.3 1035,751.3 1041,748.4 1046,761.3 1051,764.4 1056,753.7 1061,743.8 1066,737.7 1071,737.1 1077,737.0 1082,733.5 1087,732.1 1092,732.4 1097,728.0 1102,720.7 1107,723.6 1113,722.8 1118,721.9 1123,720.1 1128,724.5 1133,736.4 1138,729.8 1143,729.5 1149,739.7 1154,748.1 1159,739.7 1164,738.5 1169,737.0 1174,726.5 1179,726.8 1185,728.6 1190,726.0 1195,723.6 1200,716.3 1205,714.8 1210,715.2 1215,709.9 1221,708.2 1226,714.0 1231,717.7 1231,720.5"/>
<circle cx="1221.6" cy="716.45" r="12.25" fill="#f23645" fill-opacity="0.42" stroke="#6c7177" stroke-width="1.9"/>
<line x1="10" y1="720.5" x2="1440" y2="720.5" stroke="#61646f" stroke-width="1" stroke-dasharray="4.4,6.6" shape-rendering="crispEdges"/>
<line x1="10" y1="751.5" x2="1440" y2="751.5" stroke="#a3a6af" stroke-width="1" stroke-dasharray="4.4,6.6" shape-rendering="crispEdges"/>
<line x1="10" y1="783.5" x2="1440" y2="783.5" stroke="#61646f" stroke-width="1" stroke-dasharray="4.4,6.6" shape-rendering="crispEdges"/>
<polyline fill="none" stroke="#ffe838" stroke-width="1.15" stroke-linejoin="round" points="10.6,729.8 18.5,728.0 28.4,725.1 34.8,723.6 43.0,723.3 53.5,723.0 59.3,721.9 66.3,721.0 72.2,719.8 78.0,719.8 83.8,721.6 89.7,723.6 101.3,729.2 113.0,735.0 120.0,738.5 125.9,740.8 136.4,746.7 142.2,750.8 148.0,755.4 153.9,758.6 158.5,759.7 164.4,760.9 167.0,761.5 172.8,762.7 177.5,762.4 183.3,760.7 190.3,758.9 197.3,757.8 206.7,755.2 216.0,752.5 223.0,750.5 230.0,748.8 235.8,748.1 241.7,746.7 248.7,746.4 254.5,747.6 260.4,749.8 265.0,752.2 272.0,755.4 279.0,758.3 286.0,761.0 293.0,763.6 300.0,766.5 307.0,769.8 312.9,772.1 317.8,773.7 323.7,774.1 329.5,773.3 335.3,771.2 341.2,768.8 347.0,767.7 352.8,764.8 358.7,762.2 364.5,761.0 370.3,760.7 377.3,759.9 384.3,759.5 389.0,759.9 393.7,761.3 399.5,763.6 405.3,765.6 412.4,766.5 419.4,765.6 428.7,764.2 434.5,762.2 442.7,758.6 449.7,754.8 455.5,752.5 461.4,747.8 467.2,742.6 472.0,737.9 475.7,735.0 481.5,731.5 487.3,729.2 494.3,727.2 501.3,725.4 510.7,723.3 517.7,721.4 524.7,720.1 531.7,719.8 538.7,720.7 545.7,720.7 552.7,720.7 559.7,720.1 566.7,718.7 574.9,716.9 581.9,714.9 587.7,715.2 594.7,715.5 601.7,714.9 608.7,713.4 615.7,712.5 623.0,713.8 630.0,716.3 637.0,719.8 644.0,722.8 651.0,725.7 656.8,726.8 665.0,727.4 672.0,729.4 679.0,731.3 686.0,732.3 693.0,732.3 700.0,730.3 707.0,727.7 714.0,725.4 721.0,723.6 726.9,724.3 732.7,724.3 739.7,723.3 746.7,721.9 753.7,721.0 760.7,720.4 767.7,720.4 775.0,721.6 782.0,722.8 789.0,724.3 794.8,726.0 803.0,725.4 810.0,725.3 817.0,725.7 824.0,726.5 831.0,727.1 840.3,727.5 849.7,727.7 859.0,727.7 866.0,727.2 870.7,726.3 877.7,727.2 884.7,728.2 891.7,729.2 898.7,729.4 905.7,729.5 912.7,729.5 919.7,729.2 927.0,729.5 934.0,728.0 941.0,728.6 948.0,730.1 955.0,731.3 962.0,731.5 969.0,732.7 976.0,735.2 983.0,738.5 990.0,742.6 997.0,746.7 1004.0,751.3 1011.0,756.0 1018.0,758.6 1025.0,759.5 1032.0,761.3 1039.0,761.8 1046.0,762.7 1051.9,764.2 1057.7,763.4 1064.7,760.4 1071.7,756.9 1079.0,753.1 1086.0,748.8 1093.0,746.1 1100.0,742.6 1107.0,739.7 1114.0,737.3 1121.0,733.3 1128.0,729.8 1135.0,728.4 1142.0,727.8 1149.0,728.2 1156.0,729.5 1163.0,730.1 1170.0,730.9 1177.0,731.5 1184.0,732.3 1191.0,732.7 1198.0,732.4 1203.9,730.9 1209.7,729.8 1216.7,727.1 1223.7,723.9 1231.5,721.0"/>
<polyline fill="none" stroke="#7e57c2" stroke-width="1.05" stroke-linejoin="round" points="11,719.3 12,718.1 18,719.6 23,717.3 28,713.1 33,711.4 38,722.2 43,722.2 48,719.6 54,717.5 59,717.5 64,729.2 69,721.0 74,720.1 79,724.7 84,744.7 90,748.1 95,754.0 100,744.3 105,749.2 110,756.6 115,756.4 120,757.4 126,750.4 131,763.0 136,769.4 141,775.3 146,775.3 151,765.9 156,768.3 162,755.4 167,766.5 172,759.5 177,753.1 182,740.3 187,737.7 192,739.3 198,738.3 203,743.2 208,750.2 213,753.4 218,751.0 223,745.2 228,751.0 234,749.8 239,741.4 244,754.0 249,753.4 254,755.8 259,764.8 264,776.4 270,777.9 275,773.3 280,781.9 285,781.4 290,774.4 295,776.1 300,776.1 305,784.4 311,774.4 316,775.3 321,761.6 326,755.4 331,750.2 336,746.4 341,752.9 347,757.2 352,746.9 357,747.0 362,759.7 367,767.1 372,774.1 377,775.0 383,767.3 388,776.4 393,781.9 398,784.0 403,771.8 408,765.3 413,756.0 419,743.4 424,738.3 429,737.0 434,735.4 439,734.7 444,742.2 449,732.3 455,733.3 460,723.0 465,722.0 470,721.4 475,720.7 480,716.9 485,719.8 491,717.5 496,717.2 501,719.6 506,719.5 511,721.0 516,717.7 521,714.0 527,723.1 532,724.5 537,730.9 542,723.6 547,720.1 552,717.3 557,714.0 563,706.4 568,705.3 573,705.3 578,702.9 583,700.2 588,725.9 593,718.9 599,717.5 604,715.2 609,714.4 614,714.4 619,719.8 624,729.8 629,740.3 635,744.6 640,742.9 645,729.5 650,731.5 655,727.1 660,728.0 665,727.7 670,734.4 676,742.2 681,732.7 686,722.8 691,721.0 696,719.3 701,718.1 706,714.8 712,716.0 717,710.9 722,712.3 727,738.7 732,728.0 737,721.0 742,725.4 748,723.6 753,718.4 758,717.7 763,714.6 768,716.5 773,736.2 778,728.6 784,724.7 789,731.5 794,738.3 799,737.1 804,722.4 809,722.4 814,727.4 820,726.0 825,728.2 830,724.5 835,718.7 840,720.7 845,735.2 850,730.6 856,723.6 861,732.3 866,733.6 871,725.1 876,727.7 881,731.7 886,740.0 892,734.7 897,729.8 902,723.6 907,721.2 912,723.3 917,727.7 922,732.3 928,724.8 933,724.3 938,728.0 943,738.3 948,737.3 953,752.9 958,741.4 964,742.0 969,740.6 974,752.2 979,744.3 984,759.5 989,768.3 994,769.8 999,773.3 1005,775.0 1010,780.3 1015,769.4 1020,757.5 1025,757.5 1030,761.3 1035,751.3 1041,748.4 1046,761.3 1051,764.4 1056,753.7 1061,743.8 1066,737.7 1071,737.1 1077,737.0 1082,733.5 1087,732.1 1092,732.4 1097,728.0 1102,720.7 1107,723.6 1113,722.8 1118,721.9 1123,720.1 1128,724.5 1133,736.4 1138,729.8 1143,729.5 1149,739.7 1154,748.1 1159,739.7 1164,738.5 1169,737.0 1174,726.5 1179,726.8 1185,728.6 1190,726.0 1195,723.6 1200,716.3 1205,714.8 1210,715.2 1215,709.9 1221,708.2 1226,714.0 1231,717.7"/>
<text x="18.5" y="709" font-size="12" fill="#131722" textLength="15" lengthAdjust="spacingAndGlyphs" >RSI</text>
<text x="42" y="709" font-size="12" fill="#7e57c2" textLength="28.5" lengthAdjust="spacingAndGlyphs" >71.30</text>
<text x="78" y="709" font-size="12" fill="#ffe838" textLength="29.5" lengthAdjust="spacingAndGlyphs" >68.50</text>
<text x="115.5" y="709.3" font-size="12.5" fill="#50535e" textLength="8" lengthAdjust="spacingAndGlyphs" >∅</text>
<text x="131" y="709.3" font-size="12.5" fill="#50535e" textLength="8" lengthAdjust="spacingAndGlyphs" >∅</text>
<text x="147" y="709.3" font-size="12.5" fill="#50535e" textLength="8" lengthAdjust="spacingAndGlyphs" >∅</text>
<text x="162.5" y="709.3" font-size="12.5" fill="#50535e" textLength="8" lengthAdjust="spacingAndGlyphs" >∅</text>
<rect x="10" y="27" width="1496" height="795" fill="none" stroke="#eceef4" stroke-width="2"/>
<g shape-rendering="crispEdges">
<rect x="1440" y="28" width="1" height="793" fill="#4a4e5c" />
<rect x="11" y="794" width="1494" height="1" fill="#4a4e5c" />
</g>
<rect x="1443.5" y="31.5" width="58" height="25" rx="4" fill="#fff" stroke="#e0e3eb" stroke-width="1"/>
<text x="1453" y="48.5" font-size="11" fill="#131722" textLength="20.5" lengthAdjust="spacingAndGlyphs" >USD</text>
<text x="1449.5" y="77.45" font-size="12" fill="#50535e" textLength="46" lengthAdjust="spacing" >5,600.00</text>
<text x="1449.5" y="113.52" font-size="12" fill="#50535e" textLength="46" lengthAdjust="spacing" >5,500.00</text>
<text x="1449.5" y="149.6" font-size="12" fill="#50535e" textLength="46" lengthAdjust="spacing" >5,400.00</text>
<text x="1449.5" y="185.68" font-size="12" fill="#50535e" textLength="46" lengthAdjust="spacing" >5,300.00</text>
<text x="1449.5" y="221.75" font-size="12" fill="#50535e" textLength="46" lengthAdjust="spacing" >5,200.00</text>
<text x="1449.5" y="257.82" font-size="12" fill="#50535e" textLength="46" lengthAdjust="spacing" >5,100.00</text>
<text x="1449.5" y="293.9" font-size="12" fill="#50535e" textLength="46" lengthAdjust="spacing" >5,000.00</text>
<text x="1449.5" y="329.98" font-size="12" fill="#50535e" textLength="46" lengthAdjust="spacing" >4,900.00</text>
<text x="1449.5" y="366.05" font-size="12" fill="#50535e" textLength="46" lengthAdjust="spacing" >4,800.00</text>
<text x="1449.5" y="402.12" font-size="12" fill="#50535e" textLength="46" lengthAdjust="spacing" >4,700.00</text>
<text x="1449.5" y="438.2" font-size="12" fill="#50535e" textLength="46" lengthAdjust="spacing" >4,600.00</text>
<text x="1449.5" y="474.27" font-size="12" fill="#50535e" textLength="46" lengthAdjust="spacing" >4,500.00</text>
<text x="1449.5" y="510.35" font-size="12" fill="#50535e" textLength="46" lengthAdjust="spacing" >4,400.00</text>
<text x="1449.5" y="546.42" font-size="12" fill="#50535e" textLength="46" lengthAdjust="spacing" >4,300.00</text>
<text x="1449.5" y="582.5" font-size="12" fill="#50535e" textLength="46" lengthAdjust="spacing" >4,200.00</text>
<text x="1449.5" y="618.58" font-size="12" fill="#50535e" textLength="46" lengthAdjust="spacing" >4,100.00</text>
<text x="1449.5" y="654.65" font-size="12" fill="#50535e" textLength="46" lengthAdjust="spacing" >4,000.00</text>
<text x="1449.5" y="690.73" font-size="12" fill="#50535e" textLength="46" lengthAdjust="spacing" >3,900.00</text>
<rect x="1441" y="689" width="64" height="11" fill="#ffffff" />
<rect x="1441" y="689" width="64" height="1" fill="#e0e3eb" shape-rendering="crispEdges"/>
<text x="1449" y="707.8" font-size="12" fill="#50535e" textLength="29.5" lengthAdjust="spacingAndGlyphs" >80.00</text>
<text x="1449" y="771" font-size="12" fill="#50535e" textLength="29.5" lengthAdjust="spacingAndGlyphs" >40.00</text>
<path d="M1440 98h59a2 2 0 0 1 2 2v13a2 2 0 0 1 -2 2h-59z" fill="#000000"/>
<text x="1449" y="110.0" font-size="12" fill="#fff" font-weight="bold" textLength="47" lengthAdjust="spacingAndGlyphs" >5,500.00</text>
<path d="M1440 115h59a2 2 0 0 1 2 2v13a2 2 0 0 1 -2 2h-59z" fill="#ef5350"/>
<text x="1449" y="127.0" font-size="12" fill="#fff" font-weight="bold" textLength="47" lengthAdjust="spacingAndGlyphs" >5,464.61</text>
<path d="M1439 115h-27a2 2 0 0 0 -2 2v13a2 2 0 0 0 2 2h27z" fill="#ef5350"/>
<text x="1414.8" y="127.9" font-size="12" fill="#fff" font-weight="bold" textLength="19.6" lengthAdjust="spacingAndGlyphs" >SPX</text>
<path d="M1440 188h59a2 2 0 0 1 2 2v13a2 2 0 0 1 -2 2h-59z" fill="#131722"/>
<text x="1449" y="200.0" font-size="12" fill="#fff" font-weight="bold" textLength="47" lengthAdjust="spacingAndGlyphs" >5,261.10</text>
<path d="M1440 282h59a2 2 0 0 1 2 2v13a2 2 0 0 1 -2 2h-59z" fill="#2962ff"/>
<text x="1449" y="294.0" font-size="12" fill="#fff" font-weight="bold" textLength="47" lengthAdjust="spacingAndGlyphs" >5,000.00</text>
<path d="M1440 348h59a2 2 0 0 1 2 2v13a2 2 0 0 1 -2 2h-59z" fill="#000000"/>
<text x="1449" y="360.0" font-size="12" fill="#fff" font-weight="bold" textLength="47" lengthAdjust="spacingAndGlyphs" >4,818.62</text>
<path d="M1440 526h59a2 2 0 0 1 2 2v13a2 2 0 0 1 -2 2h-59z" fill="#000000"/>
<text x="1449" y="538.0" font-size="12" fill="#fff" font-weight="bold" textLength="47" lengthAdjust="spacingAndGlyphs" >4,325.28</text>
<path d="M1440 710h42a2 2 0 0 1 2 2v13a2 2 0 0 1 -2 2h-42z" fill="#7e57c2"/>
<text x="1449.2" y="723.0" font-size="12" fill="#fff" font-weight="bold" textLength="29.6" lengthAdjust="spacingAndGlyphs" >71.30</text>
<path d="M1439 710h-24a2 2 0 0 0 -2 2v13a2 2 0 0 0 2 2h24z" fill="#7e57c2"/>
<text x="1418.5" y="723.0" font-size="12" fill="#fff" font-weight="bold" textLength="15.5" lengthAdjust="spacingAndGlyphs" >RSI</text>
<path d="M1440 727h42a2 2 0 0 1 2 2v13a2 2 0 0 1 -2 2h-42z" fill="#ffeb3b"/>
<text x="1449.2" y="740.0" font-size="12" fill="#131722" textLength="29.5" lengthAdjust="spacingAndGlyphs" >68.50</text>
<path d="M1439 727h-78a2 2 0 0 0 -2 2v13a2 2 0 0 0 2 2h78z" fill="#ffeb3b"/>
<text x="1363.7" y="740.0" font-size="12" fill="#131722" textLength="70.4" lengthAdjust="spacingAndGlyphs" >RSI-based MA</text>
<text x="69.8" y="812" font-size="12" fill="#50535e" textLength="19.5" lengthAdjust="spacingAndGlyphs" >Aug</text>
<text x="188.0" y="812" font-size="12" fill="#50535e" textLength="19" lengthAdjust="spacingAndGlyphs" >Sep</text>
<text x="291.8" y="812" font-size="12" fill="#50535e" textLength="18" lengthAdjust="spacingAndGlyphs" >Oct</text>
<text x="403.5" y="812" font-size="12" fill="#50535e" textLength="20" lengthAdjust="spacingAndGlyphs" >Nov</text>
<text x="511.3" y="812" font-size="12" fill="#50535e" textLength="19" lengthAdjust="spacingAndGlyphs" >Dec</text>
<text x="610.5" y="812" font-size="12" fill="#50535e" font-weight="bold" textLength="27.5" lengthAdjust="spacingAndGlyphs" >2024</text>
<text x="722.4" y="812" font-size="12" fill="#50535e" textLength="18.5" lengthAdjust="spacingAndGlyphs" >Feb</text>
<text x="825.2" y="812" font-size="12" fill="#50535e" textLength="19.5" lengthAdjust="spacingAndGlyphs" >Mar</text>
<text x="928.0" y="812" font-size="12" fill="#50535e" textLength="19" lengthAdjust="spacingAndGlyphs" >Apr</text>
<text x="1040.2" y="812" font-size="12" fill="#50535e" textLength="20.5" lengthAdjust="spacingAndGlyphs" >May</text>
<text x="1155.0" y="812" font-size="12" fill="#50535e" textLength="18" lengthAdjust="spacingAndGlyphs" >Jun</text>
<text x="1253.8" y="812" font-size="12" fill="#50535e" textLength="15.5" lengthAdjust="spacingAndGlyphs" >Jul</text>
<text x="1365.0" y="812" font-size="12" fill="#50535e" textLength="18.5" lengthAdjust="spacingAndGlyphs" >Aug</text>
<g fill="#1c202b"><path d="M10.1 834.2h7.7v9.4h-4.1v-5.7h-3.6z"/><circle cx="21" cy="836.1" r="1.8"/><path d="M23.8 834.2h5.8l-3.9 9.4h-4.7z"/></g>
<text x="33.6" y="843.7" font-size="12.6" fill="#2a2e39" textLength="69.6" lengthAdjust="spacing" >TradingView</text>
</svg>
</body></html>
